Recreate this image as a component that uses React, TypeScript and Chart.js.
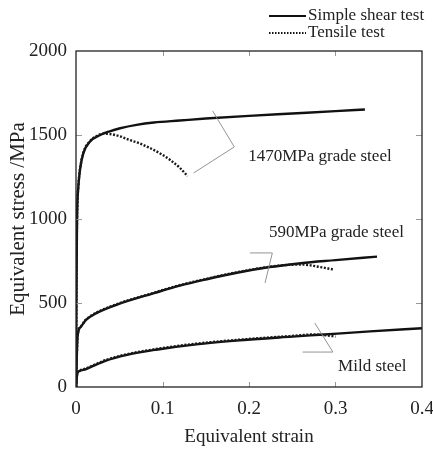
import React, { useEffect, useRef } from "react";
import { Chart, registerables } from "chart.js";

Chart.register(...registerables);

// ---- Data ----
const shear1470Strain = [0, 0.0005, 0.001, 0.0015, 0.0027, 0.0046, 0.0085, 0.016, 0.028, 0.039, 0.051, 0.07, 0.09, 0.12, 0.15, 0.2, 0.25, 0.3, 0.334];
const shear1470Stress = [0, 500, 900, 1070, 1192, 1292, 1392, 1460, 1500, 1522, 1540, 1560, 1574, 1586, 1598, 1614, 1628, 1642, 1652];

const tensile1470Strain = [0, 0.0005, 0.001, 0.0015, 0.0027, 0.0046, 0.0085, 0.016, 0.025, 0.032, 0.039, 0.051, 0.062, 0.075, 0.086, 0.1, 0.109, 0.12, 0.129];
const tensile1470Stress = [0, 500, 900, 1072, 1195, 1295, 1395, 1462, 1497, 1508, 1506, 1492, 1470, 1447, 1421, 1382, 1351, 1305, 1255];

const shear590Strain = [0, 0.001, 0.002, 0.0058, 0.0116, 0.023, 0.046, 0.0925, 0.12, 0.15, 0.186, 0.224, 0.26, 0.3, 0.348];
const shear590Stress = [0, 200, 310, 359, 399, 438, 488, 562, 603, 640, 680, 714, 737, 755, 776];

const tensile590Strain = [0, 0.001, 0.002, 0.0058, 0.0116, 0.023, 0.046, 0.0925, 0.12, 0.15, 0.186, 0.224, 0.245, 0.262, 0.28, 0.297];
const tensile590Stress = [0, 200, 312, 362, 402, 441, 491, 565, 606, 643, 683, 716, 727, 729, 716, 700];

const shearMildStrain = [0, 0.0015, 0.004, 0.0116, 0.0347, 0.0578, 0.0925, 0.139, 0.185, 0.25, 0.282, 0.34, 0.4];
const shearMildStress = [0, 80, 95, 107, 157, 190, 222, 254, 276, 300, 311, 331, 350];

const tensileMildStrain = [0, 0.0015, 0.004, 0.0116, 0.0347, 0.0578, 0.0925, 0.139, 0.185, 0.25, 0.275, 0.29, 0.3];
const tensileMildStress = [0, 82, 98, 111, 161, 194, 226, 258, 280, 304, 313, 307, 300];

const xTicks = [0, 0.1, 0.2, 0.3, 0.4];
const yTicks = [0, 500, 1000, 1500, 2000];

const legendLabels = ["Simple shear test", "Tensile test"];

// annotation labels with leader lines (data coordinates)
const annLabels = ["1470MPa grade steel", "590MPa grade steel", "Mild steel"];
const annLabelStrain = [0.199, 0.223, 0.303];
const annLabelStress = [1369, 917, 119];
const annLeaderStrain = [
  [0.158, 0.183, 0.136],
  [0.201, 0.227, 0.2185],
  [0.276, 0.297, 0.262],
];
const annLeaderStress = [
  [1643, 1429, 1274],
  [798, 798, 619],
  [381, 208, 208],
];

const FONT = "'Liberation Serif', 'Times New Roman', serif";

function pts(xs: number[], ys: number[]) {
  return xs.map((x, i) => ({ x, y: ys[i] }));
}

const decorPlugin = {
  id: "decor",
  afterDatasetsDraw(chart: any) {
    const { ctx, chartArea } = chart;
    const xs = chart.scales.x;
    const ys = chart.scales.y;
    const { left, right, top, bottom } = chartArea;
    ctx.save();
    // inside ticks
    ctx.strokeStyle = "#999";
    ctx.lineWidth = 1;
    ctx.beginPath();
    xTicks.forEach((v) => {
      if (v <= xs.min || v >= xs.max) return;
      const px = Math.round(xs.getPixelForValue(v)) + 0.5;
      ctx.moveTo(px, bottom);
      ctx.lineTo(px, bottom - 5);
      ctx.moveTo(px, top);
      ctx.lineTo(px, top + 5);
    });
    yTicks.forEach((v) => {
      if (v <= ys.min || v >= ys.max) return;
      const py = Math.round(ys.getPixelForValue(v)) + 0.5;
      ctx.moveTo(left, py);
      ctx.lineTo(left + 6, py);
      ctx.moveTo(right, py);
      ctx.lineTo(right - 6, py);
    });
    ctx.stroke();
    // frame
    ctx.strokeStyle = "#222";
    ctx.lineWidth = 1.3;
    ctx.strokeRect(left, top, right - left, bottom - top);

    // annotation leaders
    ctx.strokeStyle = "#888";
    ctx.lineWidth = 0.9;
    annLeaderStrain.forEach((sx, i) => {
      ctx.beginPath();
      sx.forEach((x, j) => {
        const px = xs.getPixelForValue(x);
        const py = ys.getPixelForValue(annLeaderStress[i][j]);
        if (j === 0) ctx.moveTo(px, py);
        else ctx.lineTo(px, py);
      });
      ctx.stroke();
    });
    // annotation labels
    ctx.fillStyle = "#222";
    ctx.font = `17px ${FONT}`;
    ctx.textAlign = "left";
    ctx.textBaseline = "middle";
    annLabels.forEach((t, i) => {
      ctx.fillText(t, xs.getPixelForValue(annLabelStrain[i]), ys.getPixelForValue(annLabelStress[i]));
    });

    // legend
    const lx0 = 269, lx1 = 306, ly = [16, 33];
    ctx.strokeStyle = "#111";
    ctx.lineWidth = 2;
    ctx.setLineDash([]);
    ctx.beginPath();
    ctx.moveTo(lx0, ly[0]);
    ctx.lineTo(lx1, ly[0]);
    ctx.stroke();
    ctx.setLineDash([1.5, 1.5]);
    ctx.lineWidth = 2;
    ctx.beginPath();
    ctx.moveTo(lx0, ly[1]);
    ctx.lineTo(lx1, ly[1]);
    ctx.stroke();
    ctx.setLineDash([]);
    legendLabels.forEach((t, i) => {
      ctx.fillText(t, lx1 + 2, ly[i]);
    });
    ctx.restore();
  },
};

export default function App() {
  const ref = useRef<HTMLCanvasElement | null>(null);
  useEffect(() => {
    document.body.style.margin = "0";
    const canvas = ref.current;
    if (!canvas) return;
    const solid = {
      borderColor: "#111",
      borderWidth: 2.4,
      pointRadius: 0,
      fill: false,
      cubicInterpolationMode: "monotone" as const,
    };
    const dotted = {
      borderColor: "#1a1a1a",
      borderWidth: 2.4,
      borderDash: [2, 1.6],
      pointRadius: 0,
      fill: false,
      cubicInterpolationMode: "monotone" as const,
    };
    const chart = new Chart(canvas, {
      type: "line",
      data: {
        datasets: [
          { label: "Tensile 1470", data: pts(tensile1470Strain, tensile1470Stress), ...dotted },
          { label: "Tensile 590", data: pts(tensile590Strain, tensile590Stress), ...dotted },
          { label: "Tensile mild", data: pts(tensileMildStrain, tensileMildStress), ...dotted },
          { label: "Shear 1470", data: pts(shear1470Strain, shear1470Stress), ...solid },
          { label: "Shear 590", data: pts(shear590Strain, shear590Stress), ...solid },
          { label: "Shear mild", data: pts(shearMildStrain, shearMildStress), ...solid },
        ],
      },
      options: {
        animation: false,
        responsive: false,
        maintainAspectRatio: false,
        layout: { padding: { top: 51, right: 11, left: 0, bottom: 0 } },
        plugins: {
          legend: { display: false },
          tooltip: { enabled: false },
        },
        scales: {
          x: {
            type: "linear",
            min: 0,
            max: 0.4,
            grid: { display: false, drawTicks: false },
            border: { display: false },
            afterBuildTicks: (s: any) => {
              s.ticks = xTicks.map((v) => ({ value: v }));
            },
            ticks: {
              padding: 11,
              color: "#222",
              font: { family: FONT, size: 19 },
              callback: (v: any) => (Number(v) === 0 ? "0" : Number(v).toFixed(1)),
            },
            title: {
              display: true,
              text: "Equivalent strain",
              color: "#222",
              font: { family: FONT, size: 19 },
              padding: { top: 0, bottom: 2 },
            },
            afterFit: (s: any) => {
              s.height = 63;
              s.paddingLeft = 0;
              s.paddingRight = 0;
            },
          },
          y: {
            type: "linear",
            min: 0,
            max: 2000,
            grid: { display: false, drawTicks: false },
            border: { display: false },
            afterBuildTicks: (s: any) => {
              s.ticks = yTicks.map((v) => ({ value: v }));
            },
            ticks: {
              padding: 9,
              color: "#222",
              font: { family: FONT, size: 19 },
              callback: (v: any) => String(v),
            },
            title: {
              display: true,
              text: "Equivalent stress /MPa",
              color: "#222",
              font: { family: FONT, size: 21 },
              padding: { top: 6, bottom: 0 },
            },
            afterFit: (s: any) => {
              s.width = 76;
              s.paddingTop = 0;
              s.paddingBottom = 0;
            },
          },
        },
      },
      plugins: [decorPlugin],
    });
    return () => chart.destroy();
  }, []);
  return <canvas ref={ref} width={433} height={450} style={{ display: "block" }} />;
}
